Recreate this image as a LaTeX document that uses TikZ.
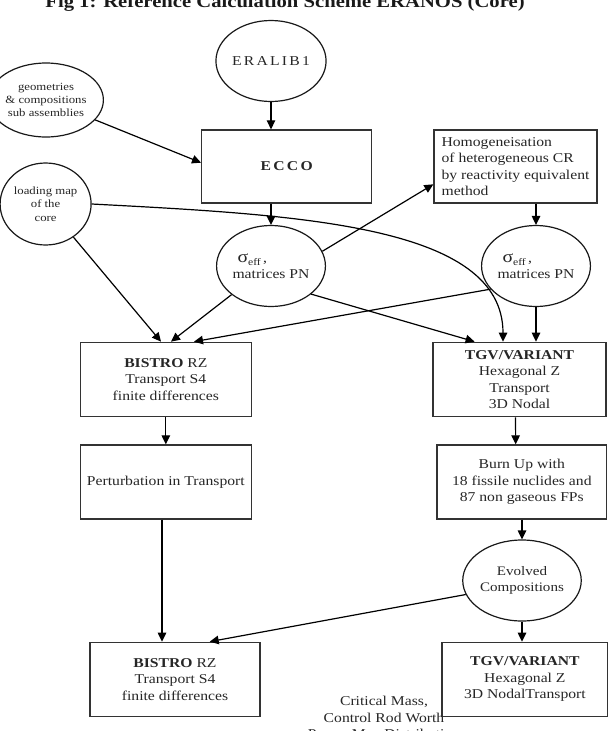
\documentclass[tikz,border=0pt]{standalone}
\usepackage{fontspec}
\setmainfont{Liberation Serif}[FakeStretch=1.16]
\usetikzlibrary{arrows.meta,shapes.geometric}
\newcommand\sigeff{{\fontsize{17}{17}\selectfont σ}\raisebox{-3pt}{\fontsize{10}{10}\selectfont eff}\,,}
\tikzset{
  box/.style={draw=black!80, line width=1.3pt, rectangle, inner sep=0pt, align=center,
    font=\fontsize{13.5}{16.5}\selectfont, text=black!85},
  oval/.style={draw=black!90, line width=1.2pt, ellipse, inner sep=0pt, minimum width=94pt,
    minimum height=81pt, align=center, text=black!85, font=\fontsize{13.5}{16}\selectfont},
  arr/.style={line width=1.2pt, -{Triangle[length=9pt,width=8.5pt]}},
}
\begin{document}
\begin{tikzpicture}[x=1pt,y=-1pt]
\useasboundingbox (0,0) rectangle (609,731);
\clip (0,0) rectangle (609,731);
\node[anchor=base, inner sep=0pt, font=\bfseries\fontsize{17.8}{18}\selectfont, text=black!90] (title) at (285,7) {Fig 1: Reference Calculation Scheme ERANOS (Core)};

\node[oval] (era) at (271,61) {E\,R\,A\,L\,I\,B\,1};
\node[oval, minimum width=92pt, minimum height=74pt, font=\fontsize{11}{13}\selectfont] (geo) at (46,100) {geometries\\\& compositions\\sub assemblies};
\node[oval, minimum width=91pt, minimum height=82pt, font=\fontsize{11}{13.5}\selectfont] (load) at (45.6,204) {loading map\\of the\\core};
\node[box, minimum width=170pt, minimum height=73pt] (ecco) at (286.7,166.5) {\textbf{E\,C\,C\,O}};
\node[box, minimum width=163pt, minimum height=73pt, align=left] (hom) at (515.5,166.5) {Homogeneisation\\of heterogeneous CR\\by reactivity equivalent\\method};
\node[oval, align=left] (sig1) at (271,266) {\hspace*{5pt}\sigeff\\matrices PN};
\node[oval, align=left] (sig2) at (536,266) {\hspace*{5pt}\sigeff\\matrices PN};

\node[box, minimum width=171pt, minimum height=74.4pt] (bis1) at (165.85,379.5) {\textbf{BISTRO} RZ\\Transport S4\\finite differences};
\node[box, minimum width=173pt, minimum height=74.4pt] (tgv1) at (519.5,379.5) {\textbf{TGV/VARIANT}\\Hexagonal Z\\Transport\\3D Nodal};
\node[box, minimum width=171pt, minimum height=74pt] (pert) at (165.85,482) {Perturbation in Transport};
\node[box, minimum width=169.6pt, minimum height=74pt] (burn) at (521.8,482) {Burn Up with\\18 fissile nuclides and\\87 non gaseous FPs};
\node[oval, minimum width=114pt, minimum height=81pt, font=\fontsize{13}{16}\selectfont] (evo) at (522,580.5) {Evolved\\Compositions};
\node[box, minimum width=170pt, minimum height=74.4pt] (bis2) at (175,679.5) {\textbf{BISTRO} RZ\\Transport S4\\finite differences};
\node[box, minimum width=165.8pt, minimum height=74.2pt] (tgv2) at (524.9,679.4) {\textbf{TGV/VARIANT}\\Hexagonal Z\\3D NodalTransport};
\node[anchor=north, inner sep=0pt, align=center, font=\fontsize{13.5}{16.5}\selectfont, text=black!85] (crit) at (384,696) {Critical Mass,\\Control Rod Worth\\Power Map Distribution};

\draw[arr] (era.south) -- (era.south |- ecco.north);
\draw[arr] (geo.-22) -- ([yshift=3.8pt]ecco.west);
\draw[arr] (sig1.north |- ecco.south) -- (sig1.north);
\draw[arr] (sig1.16) -- ([yshift=-17.8pt]hom.west);
\draw[arr] (sig2.north |- hom.south) -- (sig2.north);
\draw[arr] (load.east) .. controls (300,215) and (503,225) .. ([xshift=-16.5pt]tgv1.north);
\draw[arr] (load.-50) -- ([xshift=-4.85pt]bis1.north);
\draw[arr] (sig1.-144) -- ([xshift=5.15pt]bis1.north);
\draw[arr] (sig2.-153) -- ([xshift=28.15pt]bis1.north);
\draw[arr] (sig1.-35) -- ([xshift=-44.9pt]tgv1.north);
\draw[arr] (sig2.south) -- (sig2.south |- tgv1.north);
\draw[arr] (bis1.south) -- (pert.north);
\draw[arr] ([xshift=-4pt]tgv1.south) -- ([xshift=-6.1pt]burn.north);
\draw[arr] (evo.north |- burn.south) -- (evo.north);
\draw[arr] ([xshift=-3.85pt]pert.south) -- ([xshift=-13pt]bis2.north);
\draw[arr] (evo.-166) -- ([xshift=34.7pt]bis2.north);
\draw[arr] (evo.south) -- (evo.south |- tgv2.north);
\end{tikzpicture}
\end{document}
